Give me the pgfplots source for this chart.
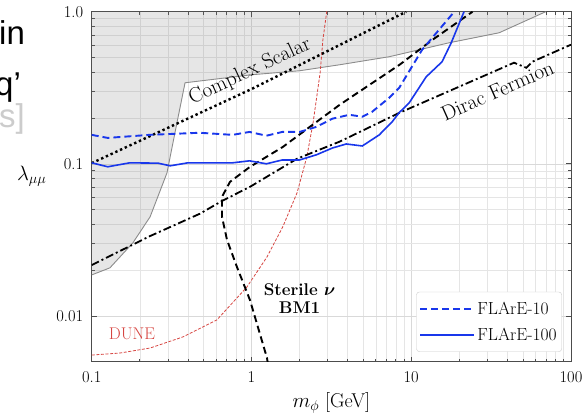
\documentclass[border=0pt]{standalone}
\usepackage{fontspec}
\usepackage{bm}
\usepackage{pgfplots}
\pgfplotsset{compat=1.18}
\newfontfamily\ovl{Liberation Sans}
\definecolor{fblue}{RGB}{25,55,235}
\definecolor{dunered}{RGB}{214,69,65}
\definecolor{bndgray}{RGB}{140,140,140}
\begin{document}
\begin{tikzpicture}[x=1pt,y=1pt]
\path[use as bounding box] (0,0) rectangle (586,417);
% overlay fragments of slide text
\node[anchor=base west, inner sep=0pt, font=\ovl\fontsize{33}{33}\selectfont] at (-1,372) {in};
\node[anchor=base west, inner sep=0pt, font=\ovl\fontsize{33}{33}\selectfont] at (-5,321) {q’};
\node[anchor=base west, inner sep=0pt, text=black!20, font=\ovl\fontsize{33}{33}\selectfont] at (-1,289) {s]};
\begin{axis}[
  at={(91.7pt,55.3pt)}, anchor=south west,
  width=479.3pt, height=350pt, scale only axis,
  xmode=log, ymode=log,
  xmin=0.1, xmax=100, ymin=0.005, ymax=1,
  xtick={0.1,1,10,100}, xticklabels={0.1,1,10,100},
  ytick={0.01,0.1,1}, yticklabels={0.01,0.1,1.0},
  grid=both,
  major grid style={black!15, line width=0.6pt},
  minor grid style={black!10, line width=0.5pt},
  tick align=inside,
  major tick length=5pt, minor tick length=3pt,
  tick style={black!70, line width=0.7pt},
  axis line style={black!70, line width=1pt},
  ticklabel style={font=\fontsize{16.5}{16.5}\selectfont},
  xticklabel style={yshift=-6pt},
  yticklabel style={xshift=-5pt},
  xlabel={$m_\phi$ [GeV]},
  xlabel style={font=\fontsize{20}{20}\selectfont, at={(axis description cs:0.5,0)}, anchor=center, yshift=-41pt},
  ylabel={$\lambda_{\mu\mu}$},
  ylabel style={font=\fontsize{20}{20}\selectfont, rotate=-90, at={(axis description cs:0,0.53)}, anchor=center, xshift=-60pt},
  legend style={at={(0.981,0.028)}, anchor=south east, draw=black!20, rounded corners=3pt, fill=white,
    font=\fontsize{17.5}{17.5}\selectfont, inner xsep=3pt, inner ysep=8pt, row sep=8pt},
  legend cell align=left,
  legend image code/.code={\draw[#1] (0pt,0pt) -- (40pt,0pt); \path (0pt,0pt) -- (54pt,0pt);},
]
% excluded region
\addplot[fill=gray, fill opacity=0.2, draw=none, forget plot] coordinates {
 (0.1,0.0186) (0.130,0.0207) (0.181,0.0302) (0.232,0.0448) (0.296,0.0872) (0.332,0.160) (0.384,0.341)
 (1.0,0.385) (2.0,0.409) (3.57,0.448) (7.3,0.506) (17.3,0.625) (35.5,0.727) (69.5,1.0)
 (0.1,1.0)} -- cycle;
\addplot[bndgray, line width=0.9pt, forget plot] coordinates {
 (0.1,0.0186) (0.130,0.0207) (0.181,0.0302) (0.232,0.0448) (0.296,0.0872) (0.332,0.160) (0.384,0.341)
 (1.0,0.385) (2.0,0.409) (3.57,0.448) (7.3,0.506) (17.3,0.625) (35.5,0.727) (69.5,1.0)};
% DUNE
\addplot[dunered, line width=0.8pt, dash pattern=on 3pt off 1.6pt, forget plot] coordinates {
 (0.1,0.00553) (0.15,0.0057) (0.232,0.00615) (0.373,0.00728) (0.608,0.00942) (0.937,0.0155)
 (1.25,0.0244) (1.57,0.0385) (1.93,0.0645) (2.22,0.111) (2.43,0.186) (2.69,0.397) (2.80,0.654) (2.97,1.03)};
% Complex scalar
\addplot[black, line width=2.4pt, dash pattern=on 2.4pt off 2.8pt, forget plot] coordinates {
 (0.1,0.101) (1.0,0.31) (9.3,1.0)};
% Dirac fermion
\addplot[black, line width=1.8pt, dash pattern=on 8pt off 3pt on 2pt off 3pt, forget plot] coordinates {
 (0.1,0.0216) (0.232,0.0335) (0.476,0.0470) (0.654,0.057) (0.979,0.0706) (1.93,0.108) (3.57,0.140)
 (8.4,0.216) (44,0.462) (52.5,0.428) (57.3,0.469) (100,0.607)};
% Sterile nu BM1
\addplot[black, line width=1.9pt, dash pattern=on 7pt off 4pt, forget plot] coordinates {
 (1.27,0.0048) (1.25,0.0053) (0.979,0.0127) (0.811,0.0210) (0.703,0.0316) (0.654,0.0448) (0.654,0.0607)
 (0.734,0.0761) (0.979,0.0955) (1.57,0.129) (2.32,0.175) (3.58,0.245) (8.45,0.448) (13.6,0.654) (24.2,1.0)};
% FLArE-10
\addplot[fblue, line width=1.9pt, dash pattern=on 7pt off 4pt] coordinates {
 (0.1,0.155) (0.126,0.148) (0.230,0.155) (0.473,0.160) (0.761,0.155) (0.972,0.162) (1.24,0.153)
 (1.56,0.162) (2.0,0.162) (2.55,0.175) (3.21,0.198) (4.1,0.210) (4.94,0.204) (5.7,0.220)
 (7.29,0.272) (8.41,0.316) (11.7,0.562) (18.6,1.0)};
\addlegendentry{FLArE-10}
% FLArE-100
\addplot[fblue, line width=1.6pt] coordinates {
 (0.1,0.1015) (0.126,0.0956) (0.173,0.1015) (0.26,0.101) (0.31,0.097) (0.40,0.1015) (0.761,0.1015) (0.972,0.1046)
 (1.24,0.100) (1.56,0.106) (2.0,0.106) (2.55,0.1146) (3.21,0.127) (3.92,0.135) (4.94,0.131)
 (6.31,0.155) (7.6,0.189) (8.41,0.217) (9.72,0.252) (12.4,0.373) (15.6,0.469) (17.8,0.625) (21.4,1.0)};
\addlegendentry{FLArE-100}
% labels
\node[rotate=25, font=\fontsize{21}{21}\selectfont] at (axis cs:0.98,0.405) {Complex Scalar};
\node[rotate=24, font=\fontsize{21}{21}\selectfont] at (axis cs:34.6,0.302) {Dirac Fermion};
\node[align=center, font=\fontsize{17}{18}\selectfont\bfseries] at (axis cs:2.0,0.0131) {Sterile $\bm{\nu}$\\BM1};
\node[text=dunered, font=\fontsize{17}{17}\selectfont] at (axis cs:0.1786,0.00762) {DUNE};
\end{axis}
\end{tikzpicture}
\end{document}
